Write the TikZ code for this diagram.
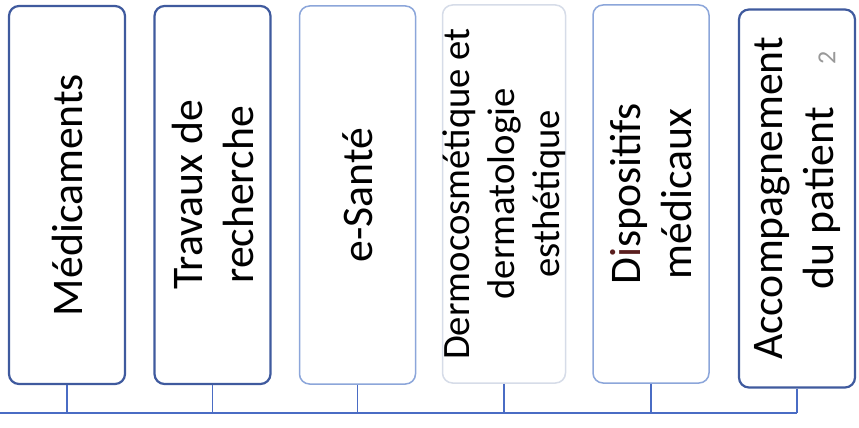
\documentclass[tikz,border=0pt]{standalone}
\usepackage{fontspec}
\setmainfont{Carlito}
\begin{document}
\begin{tikzpicture}[x=1pt,y=-1pt,
  boxbase/.style={rounded corners=10pt, rotate=90, minimum width=378pt, minimum height=116pt,
    inner sep=0pt, align=center, fill=white, font=\fontsize{43.7}{51}\selectfont, text=black},
  darkbox/.style={boxbase, draw=boxdark, line width=2.2pt},
  midbox/.style={boxbase, draw=boxmid, line width=1.5pt},
  palebox/.style={boxbase, draw=boxpale, line width=1.5pt},
  conn/.style={draw=linkblue, line width=1.6pt},
]
\definecolor{boxdark}{HTML}{3F5A9E}
\definecolor{boxmid}{HTML}{8CA6DA}
\definecolor{boxpale}{HTML}{D6DCE8}
\definecolor{linkblue}{HTML}{4A6CC4}
\definecolor{ired}{HTML}{5A1E1E}
\useasboundingbox (0,0) rectangle (859,428);
\node[darkbox] (b1) at (67,195) {Médicaments};
\node[darkbox] (b2) at (212.5,195) {Travaux de\\recherche};
\node[midbox] (b3) at (357.5,195) {e-Santé};
\node[palebox, font=\fontsize{38.7}{45}\selectfont] (b4) at (504,194) {Dermocosmétique et\\dermatologie\\esthétique};
\node[midbox] (b5) at (651,194) {D\textcolor{ired}{i}spositifs\\médicaux};
\node[darkbox] (b6) at (797,198.5) {Accompagnement\\du patient};
\node[rotate=90, text=gray!80, font=\fontsize{26}{26}\selectfont] (fn) at (827,58) {2};
\coordinate (hl) at (0,413);
\coordinate (hr) at (b6.west |- hl);
\draw[conn] (hl) -- (hr);
\foreach \b in {b1,b2,b3,b4,b5,b6} {
  \draw[conn, line width=1.3pt] (\b.west) -- (\b.west |- hl);
}
\end{tikzpicture}
\end{document}
